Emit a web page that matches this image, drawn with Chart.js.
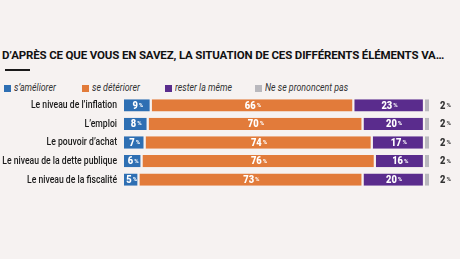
<!DOCTYPE html>
<html lang="fr">
<head>
<meta charset="utf-8">
<script src="https://cdn.jsdelivr.net/npm/chart.js@4"></script>
<style>
    html, body { margin: 0; padding: 0; }
    body {
        width: 460px;
        height: 259px;
        background: #f6f2f1;
        position: relative;
        overflow: hidden;
        font-family: Roboto, sans-serif;
        color: #1a1a1a;
    }
    .title {
        position: absolute;
        left: 2px;
        top: 48px;
        font-size: 11.5px;
        font-weight: 700;
        letter-spacing: -0.15px;
        white-space: nowrap;
        color: #111;
    }
    .rule {
        position: absolute;
        left: 5px;
        top: 69px;
        width: 25px;
        height: 2px;
        background: #1a1a1a;
    }
    .legend {
        position: absolute;
        top: 81px;
        left: 0;
        font-size: 11px;
        font-style: italic;
        color: #333;
    }
    .legend span { position: absolute; white-space: nowrap; }
    .legend i {
        display: inline-block;
        width: 7px;
        height: 7px;
        margin-right: 3px;
        vertical-align: -0.5px;
    }
    .legend b {
        display: inline-block;
        font-weight: 400;
        transform: scaleX(0.8);
        transform-origin: left center;
    }
    .chart-box {
        position: absolute;
        left: 0;
        top: 96px;
        width: 460px;
        height: 93px;
    }
</style>
</head>
<body>
<div class="title">D’APRÈS CE QUE VOUS EN SAVEZ, LA SITUATION DE CES DIFFÉRENTS ÉLÉMENTS VA…</div>
<div class="rule"></div>
<div class="legend" id="legend"></div>
<div class="chart-box"><canvas id="chart"></canvas></div>

<script>
const categories = [
    'Le niveau de l’inflation',
    'L’emploi',
    'Le pouvoir d’achat',
    'Le niveau de la dette publique',
    'Le niveau de la fiscalité',
];
const ameliorer = [9, 8, 7, 6, 5];
const deteriorer = [66, 70, 74, 76, 73];
const resterMeme = [23, 20, 17, 16, 20];
const neSePrononcentPas = [2, 2, 2, 2, 2];

const seriesNames = ['s’améliorer', 'se détériorer', 'rester la même', 'Ne se prononcent pas'];
const seriesColors = ['#2e6fb3', '#e27b3a', '#5a2c8d', '#b9b8bd'];
const legendX = [4, 82, 165, 255];

const BG = '#f6f2f1';
const SQUEEZE = 0.75; // pas de police condensée dispo, on tasse à la main

document.addEventListener('DOMContentLoaded', () => {
    buildLegend();
    initChart();
});

function buildLegend() {
    const legend = document.getElementById('legend');
    seriesNames.forEach((name, i) => {
        const item = document.createElement('span');
        item.style.left = legendX[i] + 'px';
        item.innerHTML = `<i style="background:${seriesColors[i]}"></i><b>${name}</b>`;
        legend.appendChild(item);
    });
}

// libellés des catégories, condensés
const categoryLabels = {
    id: 'categoryLabels',
    afterDraw(chart) {
        const ctx = chart.ctx;
        const yScale = chart.scales.y;
        ctx.save();
        ctx.fillStyle = '#1a1a1a';
        ctx.font = '500 11.5px Roboto, sans-serif';
        ctx.textAlign = 'right';
        ctx.textBaseline = 'middle';
        chart.data.labels.forEach((label, i) => {
            const y = yScale.getPixelForValue(i);
            ctx.save();
            ctx.translate(yScale.right - 7, y);
            ctx.scale(SQUEEZE, 1);
            ctx.fillText(label, 0, 0);
            ctx.restore();
        });
        ctx.restore();
    },
};

// valeurs dans les barres, "%" plus petit
const valueLabels = {
    id: 'valueLabels',
    afterDatasetsDraw(chart) {
        const ctx = chart.ctx;
        ctx.save();
        ctx.textBaseline = 'middle';
        chart.data.datasets.forEach((ds, di) => {
            const meta = chart.getDatasetMeta(di);
            meta.data.forEach((bar, i) => {
                const num = String(ds.data[i]);
                const outside = di === 3;
                ctx.fillStyle = outside ? '#333' : '#ffffff';
                ctx.font = '900 11px Roboto, sans-serif';
                const wNum = ctx.measureText(num).width * 0.85;
                ctx.font = '700 6px Roboto, sans-serif';
                const wPct = ctx.measureText('%').width;
                const total = wNum + 1 + wPct;
                const x = outside ? bar.x + 9 : (bar.base + bar.x) / 2 - total / 2;
                const y = bar.y + 0.5;
                ctx.save();
                ctx.translate(x, y);
                ctx.scale(0.85, 1);
                ctx.font = '900 11px Roboto, sans-serif';
                ctx.fillText(num, 0, 0);
                ctx.restore();
                ctx.font = '700 6px Roboto, sans-serif';
                ctx.fillText('%', x + wNum + 1, y - 0.5);
            });
        });
        ctx.restore();
    },
};

function initChart() {
    const canvas = document.getElementById('chart');
    const all = [ameliorer, deteriorer, resterMeme, neSePrononcentPas];

    new Chart(canvas, {
        type: 'bar',
        data: {
            labels: categories,
            datasets: all.map((values, i) => ({
                label: seriesNames[i],
                data: values,
                backgroundColor: seriesColors[i],
                borderColor: BG,
                borderWidth: { left: 0, top: 0, bottom: 0, right: 2 },
                borderSkipped: false,
                barPercentage: 0.66,
                categoryPercentage: 1,
            })),
        },
        options: {
            indexAxis: 'y',
            responsive: true,
            maintainAspectRatio: false,
            animation: false,
            layout: { padding: { left: 0, right: 29, top: 0, bottom: 0 } },
            plugins: {
                legend: { display: false },
                tooltip: { enabled: false },
            },
            scales: {
                x: {
                    stacked: true,
                    min: 0,
                    max: 100,
                    display: false,
                },
                y: {
                    stacked: true,
                    grid: { display: false },
                    border: { display: false },
                    afterFit: (scale) => { scale.width = 124; },
                    ticks: { display: false },
                },
            },
        },
        plugins: [valueLabels, categoryLabels],
    });
}
</script>
</body>
</html>
